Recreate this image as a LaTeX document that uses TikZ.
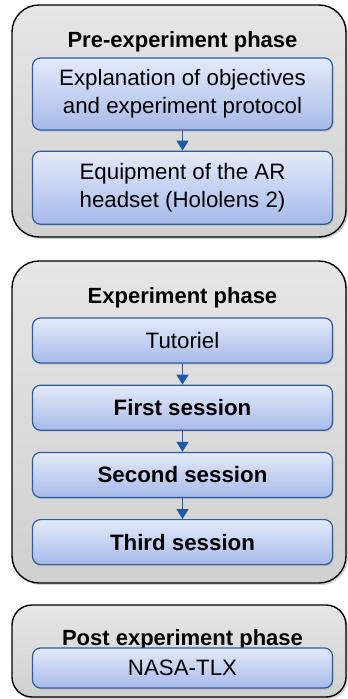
\documentclass[tikz,border=0pt]{standalone}
\usepackage{fontspec}
\setmainfont{Liberation Sans}
\usetikzlibrary{positioning,arrows.meta,shadows}
\definecolor{edgeblue}{HTML}{2F5C9E}
\definecolor{arrblue}{HTML}{1F5AA8}
\definecolor{blueT}{HTML}{E4EAF9}
\definecolor{blueB}{HTML}{A6BAEA}
\definecolor{greyT}{HTML}{E6E6E6}
\definecolor{greyB}{HTML}{D0D0D0}
\tikzset{
  arr/.style={-{Triangle[length=10pt,width=12pt]}, line width=1.6pt, color=arrblue},
  phase/.style={draw=black, line width=1.4pt, rounded corners=27pt,
                top color=greyT, bottom color=greyB, minimum width=334pt,
                drop shadow={opacity=0.35, shadow xshift=2pt, shadow yshift=-2pt}},
  ttl/.style={font=\fontsize{22}{26}\selectfont\bfseries},
  stepbox/.style={draw=edgeblue, line width=1.2pt, rounded corners=8pt,
                  top color=blueT, bottom color=blueB, align=center,
                  minimum width=300pt, minimum height=45pt, inner sep=2pt,
                  font=\fontsize{22.3}{28}\selectfont,
                  drop shadow={opacity=0.3, shadow xshift=1pt, shadow yshift=-1.5pt}},
}
\begin{document}
\begin{tikzpicture}[x=1pt, y=1pt, node distance=21pt]
  \useasboundingbox (0,0) rectangle (348,-699);
  % phase frames
  \node[phase, minimum height=232pt] (pre)  at (179,-121) {};
  \node[phase, minimum height=322pt] (exp)  at (179,-422) {};
  \node[phase, minimum height=92pt, rounded corners=20pt] (post) at (179,-651) {};
  % pre-experiment
  \node[ttl] (preT) at (182.5,-42) {Pre-experiment phase};
  \node[stepbox, minimum height=72pt] (expl) at (182.5,-94) {Explanation of objectives\\and experiment protocol};
  \node[stepbox, minimum height=73pt, below=20pt of expl] (equip) {Equipment of the AR\\headset (Hololens 2)};
  % experiment
  \node[ttl] (expT) at (182.5,-298) {Experiment phase};
  \node[stepbox] (tut) at (182.5,-340.5) {Tutoriel};
  \node[stepbox, below=of tut]    (first)  {\textbf{First session}};
  \node[stepbox, below=of first]  (second) {\textbf{Second session}};
  \node[stepbox, below=of second] (third)  {\textbf{Third session}};
  % post experiment
  \node[ttl] (postT) at (182.5,-640) {Post experiment phase};
  \node[stepbox, minimum height=40pt] (nasa) at (182.5,-668) {NASA-TLX};
  \foreach \a/\b in {expl/equip, tut/first, first/second, second/third} \draw[arr] (\a) -- (\b);
\end{tikzpicture}
\end{document}
